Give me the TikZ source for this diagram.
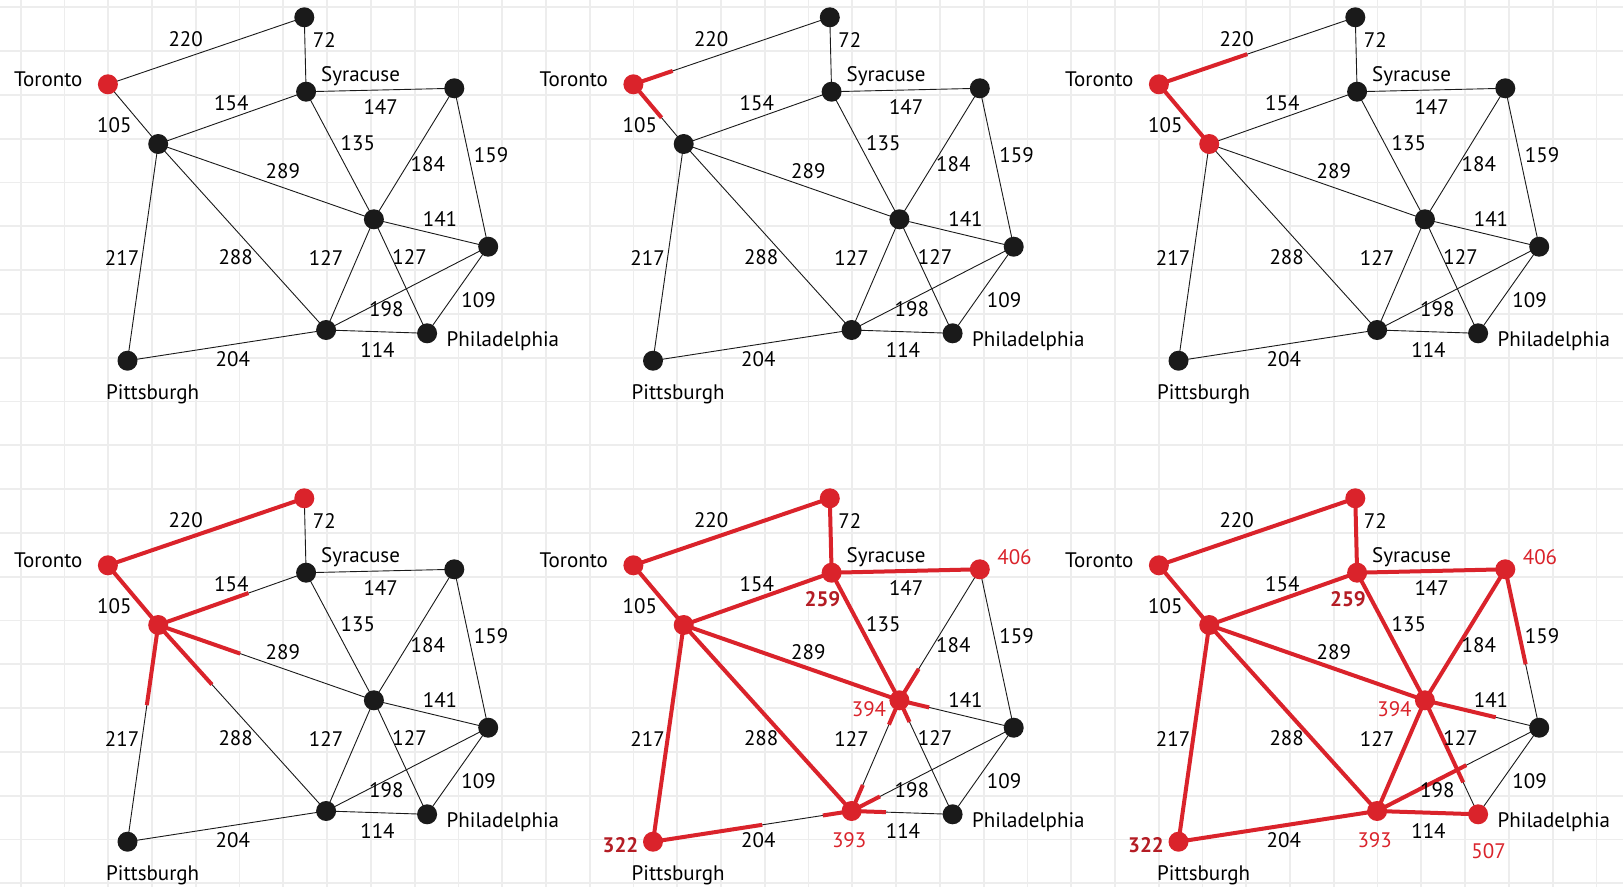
\documentclass[tikz,border=0pt]{standalone}
\usepackage{fontspec}
\setmainfont{PT Sans}
\usetikzlibrary{calc}
\definecolor{myred}{RGB}{218,35,43}
\definecolor{darkred}{RGB}{180,28,36}
\definecolor{gridc}{RGB}{237,237,237}
\definecolor{nblack}{RGB}{26,26,26}
\pgfdeclarelayer{bg}
\pgfdeclarelayer{edges}
\pgfsetlayers{bg,edges,main}

\tikzset{
  vtx/.style={circle, fill=nblack, minimum size=20pt, inner sep=0pt},
  vT/.style={}, vA/.style={}, vB/.style={}, vS/.style={}, vE/.style={},
  vC/.style={}, vR/.style={}, vD/.style={}, vP/.style={}, vPi/.style={},
  edge/.style={draw=nblack, line width=0.9pt},
  hlt/.style={draw=myred, line width=4pt},
  lab/.style={font=\fontsize{21}{25}\selectfont, text=black, inner sep=0pt},
  rlab/.style={font=\fontsize{21}{25}\selectfont, text=myred, inner sep=0pt},
  blab/.style={font=\fontsize{21}{25}\selectfont\bfseries, text=darkred, inner sep=0pt},
  gridline/.style={draw=gridc, line width=1.8pt},
  redv/.style={fill=myred}
}

\newcommand{\ed}[3]{\draw[edge] (#1#2.center) -- (#1#3.center);}
\newcommand{\hl}[3]{\draw[hlt] (#1#2.center) -- (#1#3.center);}
\newcommand{\hp}[4]{\draw[hlt] (#1#2.center) -- ($(#1#2.center)!#4!(#1#3.center)$);}

\newcommand{\mypanel}[1]{%
  \node[vtx,vA]  (#1A)  at (304.3,17.3) {};
  \node[vtx,vT]  (#1T)  at (107.9,84.3) {};
  \node[vtx,vB]  (#1B)  at (158.2,144) {};
  \node[vtx,vS]  (#1S)  at (306.1,91.7) {};
  \node[vtx,vE]  (#1E)  at (454.3,88.3) {};
  \node[vtx,vC]  (#1C)  at (373.9,219.3) {};
  \node[vtx,vR]  (#1R)  at (488.2,246.7) {};
  \node[vtx,vD]  (#1D)  at (326.1,330) {};
  \node[vtx,vP]  (#1P)  at (427.1,333.3) {};
  \node[vtx,vPi] (#1Pi) at (127.5,360.7) {};
  \begin{pgfonlayer}{edges}
    \ed{#1}{T}{A}\ed{#1}{A}{S}\ed{#1}{T}{B}\ed{#1}{B}{S}\ed{#1}{S}{E}
    \ed{#1}{S}{C}\ed{#1}{B}{C}\ed{#1}{B}{D}\ed{#1}{B}{Pi}\ed{#1}{E}{C}
    \ed{#1}{E}{R}\ed{#1}{C}{R}\ed{#1}{C}{D}\ed{#1}{C}{P}\ed{#1}{D}{R}
    \ed{#1}{R}{P}\ed{#1}{D}{P}\ed{#1}{Pi}{D}
  \end{pgfonlayer}
  \node[lab,anchor=base west] (#1Tn) at (14,86) {Toronto};
  \node[lab,anchor=base west] (#1Sn) at (321,81.5) {Syracuse};
  \node[lab,anchor=base west] (#1Pn) at (446.5,346.2) {Philadelphia};
  \node[lab,anchor=base west] (#1Pin) at (106,399) {Pittsburgh};
  \node[lab] (#1w220) at (185.7,39) {220};
  \node[lab] (#1w72) at (324.3,40) {72};
  \node[lab] (#1w154) at (231.4,103) {154};
  \node[lab] (#1w147) at (380.7,107) {147};
  \node[lab] (#1w105) at (114.3,125) {105};
  \node[lab] (#1w135) at (357.9,143) {135};
  \node[lab] (#1w159) at (491.1,155) {159};
  \node[lab] (#1w184) at (427.9,164) {184};
  \node[lab] (#1w289) at (282.9,171) {289};
  \node[lab] (#1w141) at (440,219) {141};
  \node[lab] (#1w217) at (122.1,258) {217};
  \node[lab] (#1w288) at (235.7,257) {288};
  \node[lab] (#1w127a) at (326.1,258) {127};
  \node[lab] (#1w127b) at (409.6,257) {127};
  \node[lab] (#1w109) at (478.6,300) {109};
  \node[lab] (#1w198) at (386.4,309) {198};
  \node[lab] (#1w114) at (377.5,350) {114};
  \node[lab] (#1w204) at (232.9,359) {204};
}

\begin{document}
\begin{tikzpicture}[x=1pt,y=-1pt]
\useasboundingbox (0,0) rectangle (1623,887);
\begin{pgfonlayer}{bg}
  \fill[white] (0,0) rectangle (1623,887);
  \foreach \i in {0,...,36} \draw[gridline] ({20.7+43.77*\i},0) -- ({20.7+43.77*\i},887);
  \foreach \j in {0,...,20} \draw[gridline] (0,{7.3+43.8*\j}) -- (1623,{7.3+43.8*\j});
\end{pgfonlayer}

% Panel 1
\begin{scope}
  \tikzset{vT/.style=redv}
  \mypanel{p1}
\end{scope}

% Panel 2
\begin{scope}[shift={(525.5,0)}]
  \tikzset{vT/.style=redv}
  \mypanel{p2}
  \begin{pgfonlayer}{edges}
    \hp{p2}{T}{A}{0.2}\hp{p2}{T}{B}{0.56}
  \end{pgfonlayer}
\end{scope}

% Panel 3
\begin{scope}[shift={(1051,0)}]
  \tikzset{vT/.style=redv, vB/.style=redv}
  \mypanel{p3}
  \begin{pgfonlayer}{edges}
    \hl{p3}{T}{B}\hp{p3}{T}{A}{0.45}
  \end{pgfonlayer}
\end{scope}

% Panel 4
\begin{scope}[shift={(0,481)}]
  \tikzset{vT/.style=redv, vA/.style=redv, vB/.style=redv}
  \mypanel{p4}
  \begin{pgfonlayer}{edges}
    \hl{p4}{T}{A}\hl{p4}{T}{B}
    \hp{p4}{B}{S}{0.61}\hp{p4}{B}{C}{0.38}\hp{p4}{B}{D}{0.32}\hp{p4}{B}{Pi}{0.37}
  \end{pgfonlayer}
\end{scope}

% Panel 5
\begin{scope}[shift={(525.5,481)}]
  \tikzset{vT/.style=redv, vA/.style=redv, vB/.style=redv, vS/.style=redv,
    vE/.style=redv, vC/.style=redv, vD/.style=redv, vPi/.style=redv}
  \mypanel{p5}
  \begin{pgfonlayer}{edges}
    \hl{p5}{T}{A}\hl{p5}{A}{S}\hl{p5}{T}{B}\hl{p5}{B}{S}\hl{p5}{S}{E}
    \hl{p5}{S}{C}\hl{p5}{B}{C}\hl{p5}{B}{D}\hl{p5}{B}{Pi}
    \hp{p5}{Pi}{D}{0.55}\hp{p5}{D}{Pi}{0.145}
    \hp{p5}{C}{E}{0.24}\hp{p5}{C}{R}{0.26}\hp{p5}{C}{D}{0.22}\hp{p5}{C}{P}{0.19}
    \hp{p5}{D}{C}{0.235}\hp{p5}{D}{R}{0.175}\hp{p5}{D}{P}{0.34}
  \end{pgfonlayer}
  \node[rlab] (p5d406) at (489,75.7) {406};
  \node[blab] (p5d259) at (297,118.3) {259};
  \node[rlab] (p5d394) at (343.5,228.3) {394};
  \node[rlab] (p5d393) at (323.7,359) {393};
  \node[blab] (p5d322) at (95,364) {322};
\end{scope}

% Panel 6
\begin{scope}[shift={(1051,481)}]
  \tikzset{vT/.style=redv, vA/.style=redv, vB/.style=redv, vS/.style=redv,
    vE/.style=redv, vC/.style=redv, vD/.style=redv, vPi/.style=redv, vP/.style=redv}
  \mypanel{p6}
  \begin{pgfonlayer}{edges}
    \hl{p6}{T}{A}\hl{p6}{A}{S}\hl{p6}{T}{B}\hl{p6}{B}{S}\hl{p6}{S}{E}
    \hl{p6}{S}{C}\hl{p6}{B}{C}\hl{p6}{B}{D}\hl{p6}{B}{Pi}\hl{p6}{Pi}{D}
    \hl{p6}{C}{E}\hl{p6}{C}{D}\hl{p6}{D}{P}
    \hp{p6}{D}{R}{0.55}\hp{p6}{C}{P}{0.72}\hp{p6}{C}{R}{0.62}\hp{p6}{E}{R}{0.6}
  \end{pgfonlayer}
  \node[rlab] (p6d406) at (489,75.7) {406};
  \node[blab] (p6d259) at (297,118.3) {259};
  \node[rlab] (p6d394) at (343.5,228.3) {394};
  \node[rlab] (p6d393) at (323.7,359) {393};
  \node[blab] (p6d322) at (95,364) {322};
  \node[rlab] (p6d507) at (437.6,369.7) {507};
\end{scope}
\end{tikzpicture}
\end{document}
